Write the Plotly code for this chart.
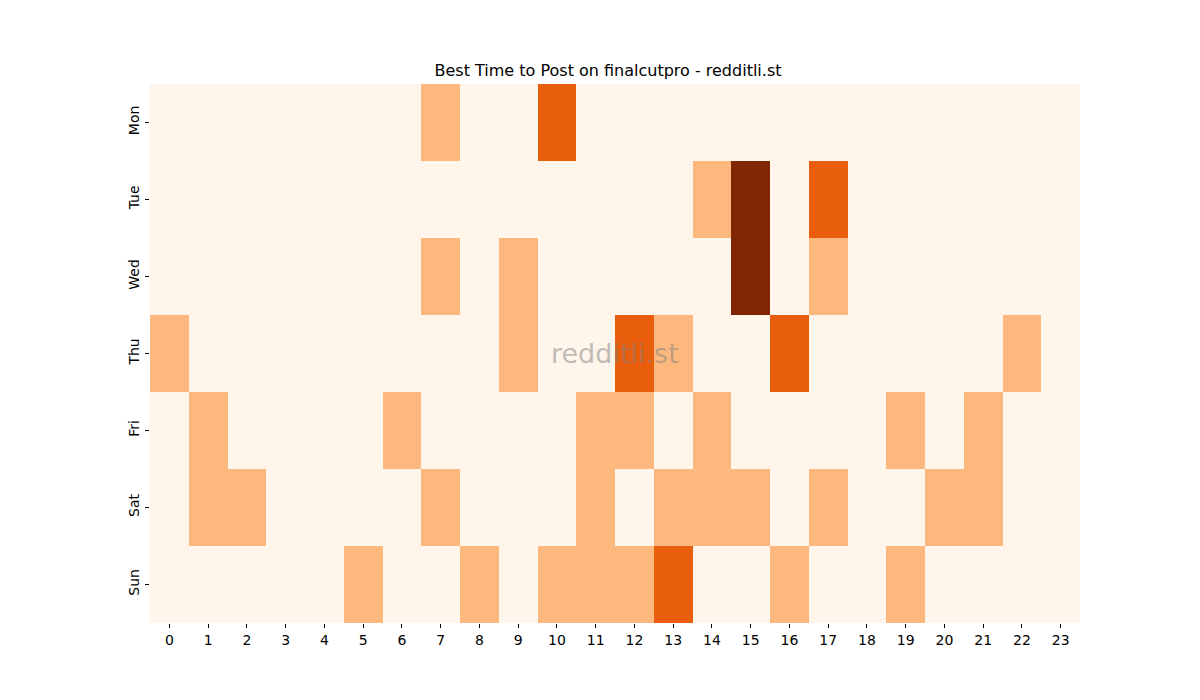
import plotly.graph_objects as go

hours = list(range(24))
days = ['Mon', 'Tue', 'Wed', 'Thu', 'Fri', 'Sat', 'Sun']

# post activity level per day (rows) and hour (columns)
mon = [0, 0, 0, 0, 0, 0, 0, 1, 0, 0, 2, 0, 0, 0, 0, 0, 0, 0, 0, 0, 0, 0, 0, 0]
tue = [0, 0, 0, 0, 0, 0, 0, 0, 0, 0, 0, 0, 0, 0, 1, 3, 0, 2, 0, 0, 0, 0, 0, 0]
wed = [0, 0, 0, 0, 0, 0, 0, 1, 0, 1, 0, 0, 0, 0, 0, 3, 0, 1, 0, 0, 0, 0, 0, 0]
thu = [1, 0, 0, 0, 0, 0, 0, 0, 0, 1, 0, 0, 2, 1, 0, 0, 2, 0, 0, 0, 0, 0, 1, 0]
fri = [0, 1, 0, 0, 0, 0, 1, 0, 0, 0, 0, 1, 1, 0, 1, 0, 0, 0, 0, 1, 0, 1, 0, 0]
sat = [0, 1, 1, 0, 0, 0, 0, 1, 0, 0, 0, 1, 0, 1, 1, 1, 0, 1, 0, 0, 1, 1, 0, 0]
sun = [0, 0, 0, 0, 0, 1, 0, 0, 1, 0, 1, 1, 1, 2, 0, 0, 1, 0, 0, 1, 0, 0, 0, 0]

z = [mon, tue, wed, thu, fri, sat, sun]

# Oranges, sampled at 0, 1/3, 2/3, 1
scale = [
    [0.0, '#fff5eb'], [0.1666, '#fff5eb'],
    [0.1667, '#fdb97d'], [0.5, '#fdb97d'],
    [0.5001, '#e95e0d'], [0.8333, '#e95e0d'],
    [0.8334, '#7f2704'], [1.0, '#7f2704'],
]

fig = go.Figure(go.Heatmap(
    z=z, x=hours, y=days, colorscale=scale, zmin=0, zmax=3,
    showscale=False, xgap=0, ygap=0,
))

fig.add_annotation(
    text='redditli.st', x=0.5, y=0.5, xref='paper', yref='paper',
    showarrow=False, font=dict(size=27, color='rgba(128,128,128,0.5)', family='DejaVu Sans'),
)

fig.update_layout(
    width=1200, height=700,
    margin=dict(l=142, r=128, t=76, b=85),
    paper_bgcolor='white', plot_bgcolor='white',
    font=dict(family='DejaVu Sans', size=14, color='black'),
    title=dict(text='Best Time to Post on finalcutpro - redditli.st', x=0.5, xanchor='center',
               y=1 - 62 / 700, yanchor='middle', font=dict(size=16)),
    xaxis=dict(tickmode='array', tickvals=hours, ticks='outside', ticklen=4, tickcolor='black',
               showgrid=False, zeroline=False, showline=False),
    yaxis=dict(autorange='reversed', ticks='outside', ticklen=4, tickcolor='black', tickangle=-90,
               showgrid=False, zeroline=False, showline=False),
)

fig.write_html('out.html')
